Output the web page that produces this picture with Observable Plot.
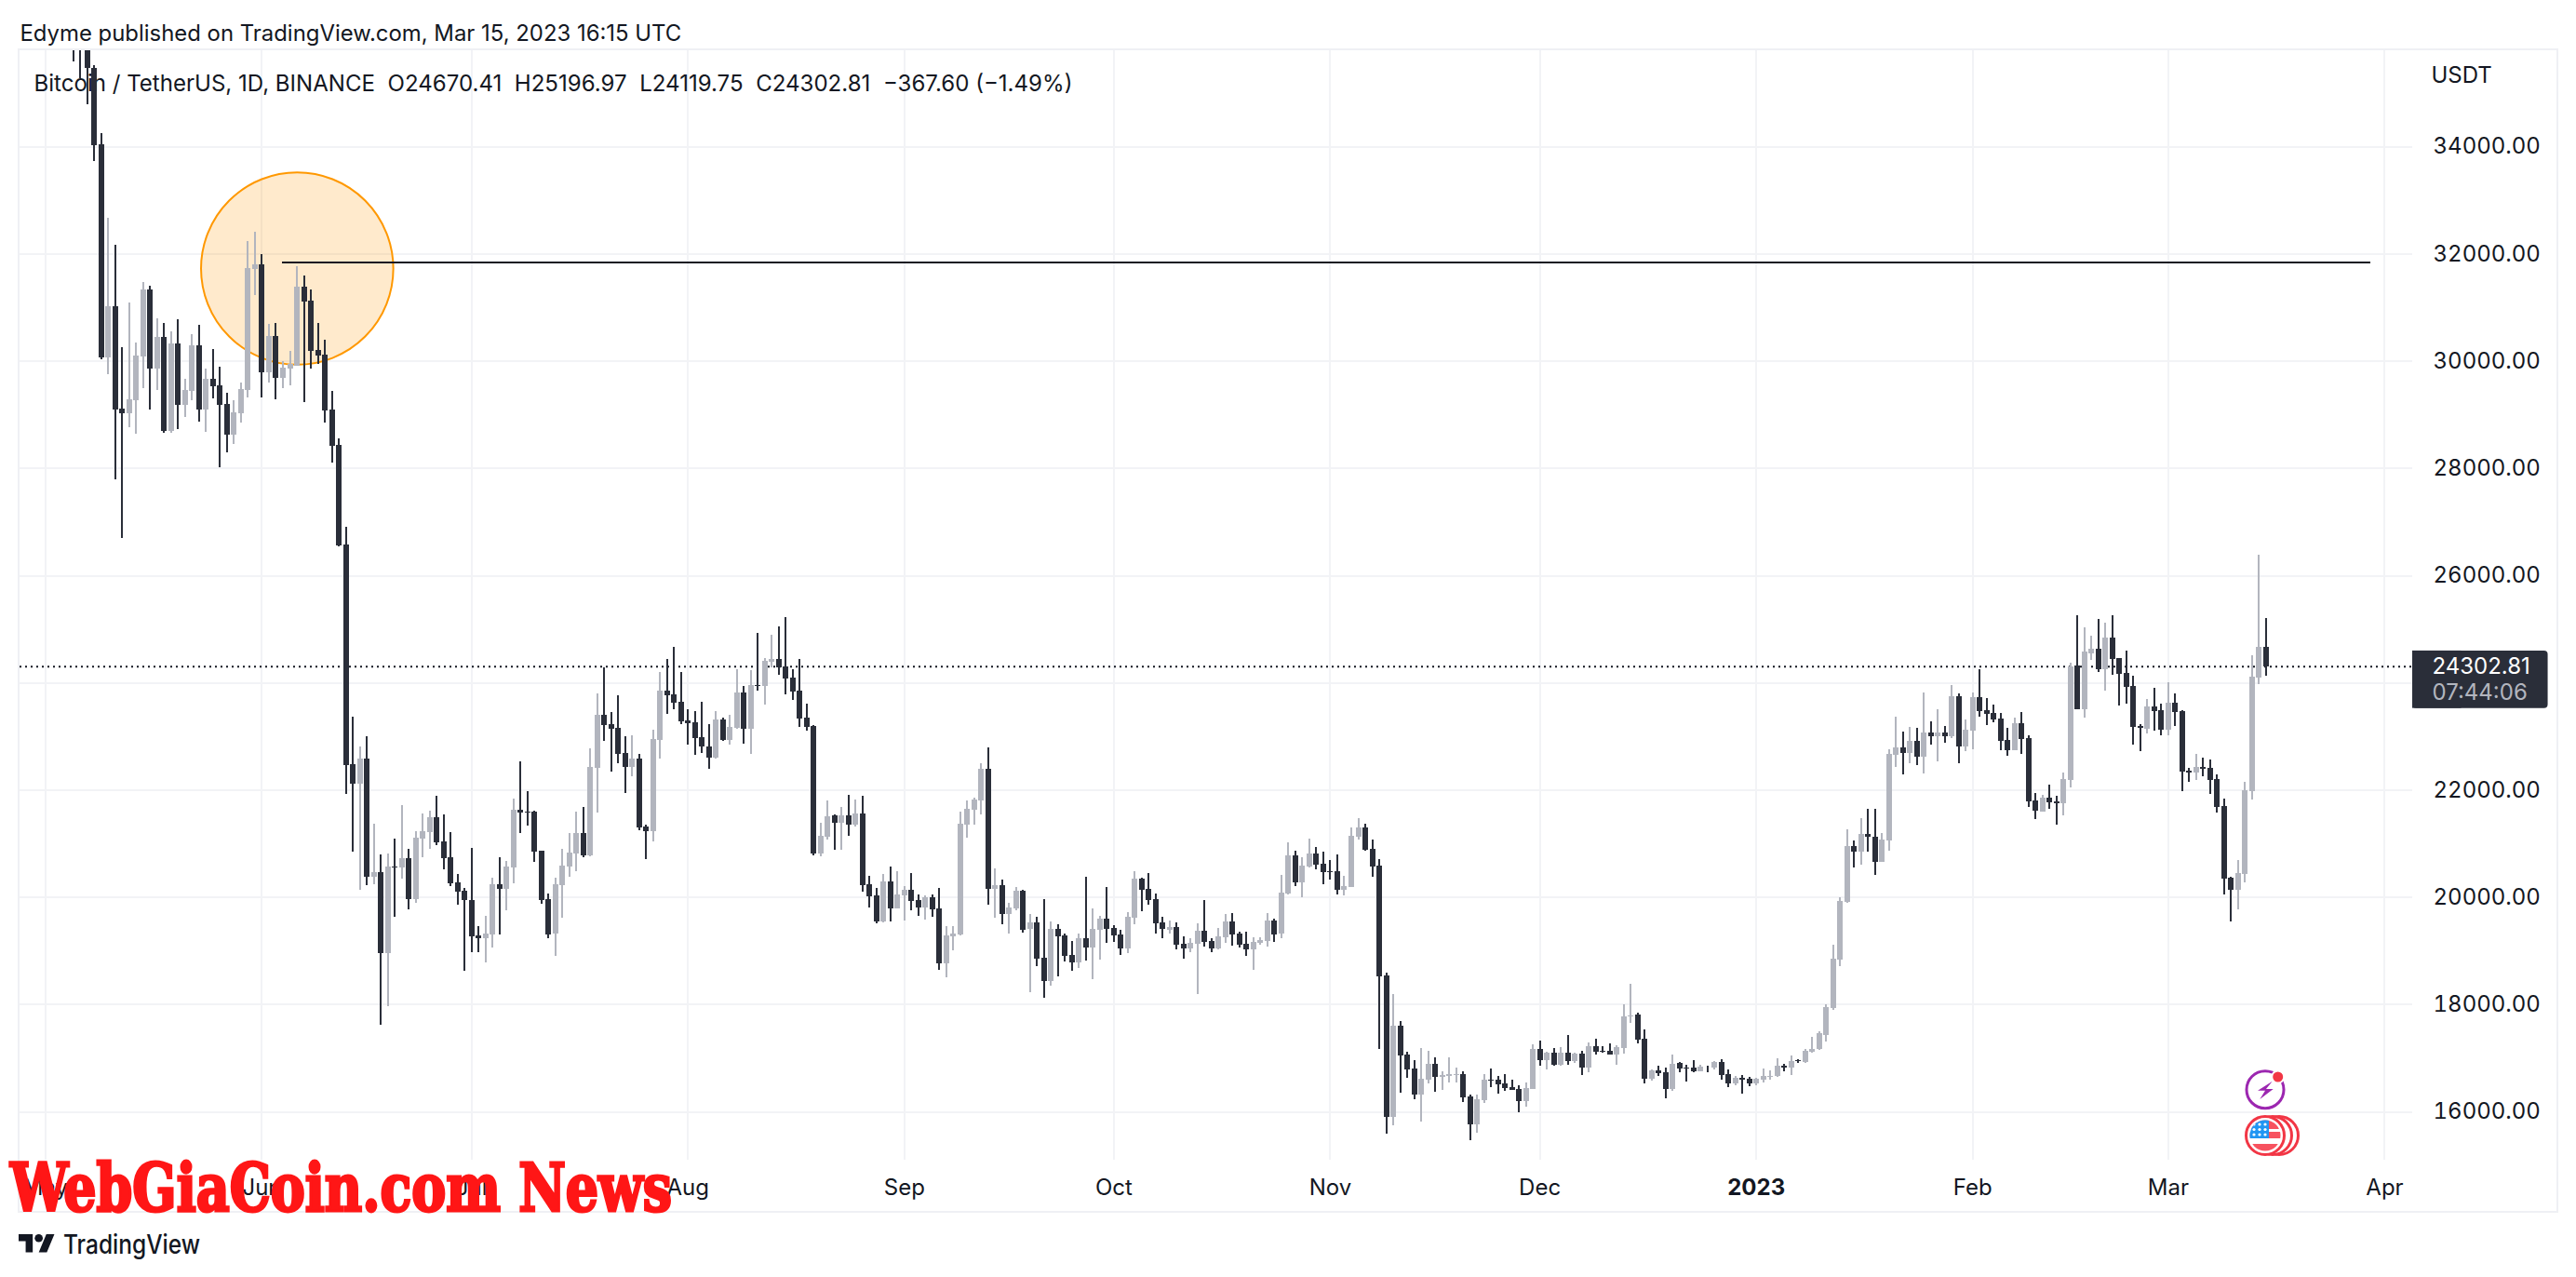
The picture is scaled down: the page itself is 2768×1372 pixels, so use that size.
<!DOCTYPE html>
<html><head><meta charset="utf-8">
<script src="https://cdn.jsdelivr.net/npm/d3@7"></script>
<script src="https://cdn.jsdelivr.net/npm/@observablehq/plot@0.6"></script>
<style>html,body{margin:0;padding:0;background:#fff}svg{display:block}</style>
</head><body><div id="chart"></div>
<script>
const firstDay = "2022-05-05";
const open = [
39678,36547,36014,35471,34033,30065,31014,29104,29023,29271,30084,31336,29860,30443,28695,30325,29178,29445,30288,29092,29662,29538,29197,28627,29023,29457,31720,
31801,29786,30468,29681,29860,29910,31386,31119,30208,30115,29092,28434,26574,22476,22110,22581,20374,20461,18960,20560,20548,20721,19959,21087,21211,21490,21037,20740,20275,20114,
19940,19283,19239,19301,20238,20157,20548,21626,21589,21589,20864,19959,19320,20219,20566,20808,21192,20777,22414,23400,23226,23152,22687,22426,22581,21316,21230,22935,23846,23778,23641,
23288,23257,22978,22804,22600,23313,22928,23152,23815,23139,23951,23927,24385,24441,24301,24086,23849,23346,23190,20817,21129,21523,21384,21523,21349,21558,20238,20030,19544,20290,19787,20030,20134,19943,19804,19995,
19787,18762,19266,19301,21349,21627,21801,22391,20151,20221,19683,19787,20117,19405,19526,18867,18433,19405,19283,18919,18780,19231,19057,19387,19596,
19422,19301,19040,19613,20342,20151,19960,19526,19387,19440,19127,19040,19127,19370,19179,19040,19249,19543,19317,19126,19022,19144,19178,19560,19317,20064,20776,20272,20567,20810,20619,
20475,20481,20133,20185,21123,21297,20897,20585,18536,15897,17599,17060,16800,16314,16592,16887,16644,16661,16679,16696,16279,15758,16210,16592,16592,16522,16453,16418,16192,
16418,17165,16956,17095,16869,17095,16939,17078,16817,17217,17130,17130,17060,17182,17772,17807,17356,16609,16765,16731,16418,16896,16819,16819,16747,16842,16819,16920,16699,16526,16621,16609,
16526,16592,16645,16663,16854,16819,16950,16914,17106,17159,17428,17930,18833,19909,20949,20848,21176,21123,20656,21057,22653,22791,22683,22910,22617,23066,23000,23066,22994,23747,22809,
23101,23735,23484,23430,23329,22928,22737,23239,22964,21800,21597,21852,21783,21754,22188,24317,23507,24543,24630,24248,24838,24456,24178,23935,23189,23137,23553,
23484,23119,23623,23467,22356,22321,22425,22408,22199,21696,20359,20133,20428,21974,24092,24670];
const high = [
39845,36665,36146,35509,34250,32669,32161,30251,31088,30344,31472,31400,30790,30704,30549,30778,29662,30499,30673,29848,30220,29891,29402,29259,29600,32235,32409,
31987,30685,30704,30003,30189,31764,31584,31336,30704,30394,29445,28546,26903,23362,22804,22990,21366,20796,20808,21087,21707,20889,21230,21552,21614,21887,21540,21211,20424,20163,
20913,19456,19649,20362,20740,20672,21837,22532,21974,21608,20870,20064,20362,20889,21192,21589,21676,22773,23796,24280,23449,23759,22997,23015,22668,21347,23121,24193,24441,24664,24193,
23499,23468,23635,23226,23468,23344,23400,24249,23933,24230,24919,24454,24888,25049,25215,24248,24434,23606,23201,21384,21801,21540,21679,21905,21818,21887,20394,20169,20429,20568,20481,20198,20446,20047,20030,20047,
20169,19457,19457,21592,21801,21853,22495,22790,20533,20325,19891,20186,20130,19683,19630,19960,19544,19492,19318,19179,19318,20377,19787,19648,20186,
19474,19387,19717,20481,20360,20446,20064,19630,19561,19526,19266,19231,19509,19943,19231,19422,19683,19699,19352,19352,19248,19248,19699,19595,20411,21019,20863,20741,21088,20932,20845,
20689,20793,20394,21297,21470,21366,21071,20706,18588,18189,17686,17113,16956,17182,17130,17008,16748,17008,16817,16748,16314,16314,16696,16800,16661,16696,16592,16488,16540,
17251,17321,17110,17182,17199,17425,17100,17130,17286,17356,17217,17269,17234,17998,18380,17842,17529,16783,16852,16817,17060,16920,16872,16956,16872,16854,16938,16974,16783,16663,16681,16639,
16627,16800,16765,16992,16884,17046,16980,17165,17392,17494,17996,19108,19987,21260,21057,21469,21643,21643,21194,22755,23364,23084,23173,23155,23813,23275,23502,23191,23950,23795,23311,
23813,24249,23711,23586,23430,23155,23347,23448,23012,21933,21898,22089,21881,22321,24375,25255,25029,24873,25185,25116,25255,24462,24595,24126,23224,23692,23901,
23605,24005,23797,23484,22408,22668,22599,22564,22286,21835,20370,20689,22147,24508,26383,25197];
const low = [
35583,35273,34790,33735,30034,29743,27790,26700,28763,28639,29488,29092,29464,28658,28650,28732,28961,29259,28868,28682,29302,28019,28298,28453,28856,29309,31224,
29309,29600,29290,29495,29550,29900,29228,29860,29941,28856,28100,26540,21924,20851,20126,20219,20238,17615,17968,19630,20343,19773,19897,20746,20901,20975,20517,20207,19859,18626,
18979,18979,18781,19060,19301,19754,20262,21192,21323,20653,19878,19239,18905,19618,20374,20486,20746,20765,21577,22916,22346,22501,21936,22253,21242,20709,21037,22581,23412,23499,23232,
22842,22649,22687,22389,22581,22916,22842,23140,22860,22668,23846,23586,24280,24144,23780,23676,23172,23103,20776,20759,21071,20886,20886,21141,21314,20105,19804,19509,19530,19544,19780,19561,19752,19648,19578,19630,
18641,18502,19005,19283,21106,21349,21540,19856,19613,19492,19318,19752,19335,18224,18710,18120,18346,18519,18797,18624,18676,18815,18467,18832,19144,
19162,18919,18953,19492,19735,19856,19318,19231,19318,19023,18849,18971,18190,19075,18971,19030,19144,19092,19057,18901,18640,19109,19074,19161,19231,20047,20203,19994,20550,20515,20238,
20324,20047,20029,20180,21071,20870,20376,17165,15585,15741,16349,16626,16227,15810,16522,16366,16401,16540,16540,16175,15463,15602,16158,16453,16331,16383,16395,15984,16088,
16410,16852,16783,16852,16860,16869,16904,16679,16731,17060,17095,17055,16869,17078,17651,17269,16522,16574,16661,16244,16383,16723,16555,16735,16740,16723,16783,16591,16454,16490,16334,16472,
16490,16544,16597,16645,16747,16681,16908,16908,17100,17147,17303,17900,18714,19897,20549,20603,20848,20411,20650,20866,22426,22288,22498,22462,22306,22844,22528,22874,22964,22498,22719,
22755,23364,23209,23257,22737,22635,22730,22671,21679,21459,21590,21638,21354,21528,22043,23500,23351,24421,24196,23849,24144,23577,23605,22842,22720,23050,23102,
23015,23015,23189,21974,22147,22182,22251,21922,21574,20046,19543,19769,20272,21817,23970,24120];
const close = [
36547,36014,35471,34021,30065,31014,29092,29023,29290,30096,31336,29860,30443,28689,30325,29178,29464,30294,29092,29662,29526,29178,28627,29042,29476,31733,31801,
29786,30468,29681,29879,29941,31386,31107,30189,30096,29073,28422,26562,22463,22110,22581,20374,20461,18960,20560,20548,20721,19959,21106,21230,21490,21025,20727,20262,20107,19934,
19270,19239,19320,20238,20157,20560,21626,21583,21577,20851,19940,19301,20238,20585,20827,21192,20777,22426,23400,23214,23145,22674,22426,22581,21304,21230,22947,23846,23765,23629,23276,
23245,22966,22804,22600,23313,22928,23170,23815,23139,23951,23927,24404,24441,24280,24075,23838,23328,23172,20817,21135,21500,21384,21523,21349,21558,20221,20018,19544,20290,19787,20047,20134,19926,19804,19995,19770,
18762,19283,19318,21366,21644,21818,22391,20151,20221,19683,19804,20117,19387,19526,18849,18433,19405,19266,18901,18780,19231,19057,19405,19596,19405,
19283,19040,19630,20342,20134,19943,19509,19405,19440,19110,19040,19144,19370,19162,19040,19266,19544,19300,19109,19022,19161,19196,19560,19300,20081,20776,20272,20585,20810,20602,20463,
20463,20133,20203,21140,21297,20880,20567,18519,15897,17599,17043,16783,16314,16609,16887,16644,16679,16696,16696,16262,15758,16227,16592,16574,16505,16435,16401,16192,16435,
17165,16956,17095,16869,17095,16939,17078,16817,17217,17113,17113,17060,17199,17772,17790,17338,16609,16765,16713,16418,16887,16801,16807,16747,16831,16831,16920,16681,16526,16627,16597,16526,
16609,16663,16663,16854,16825,16938,16932,17129,17159,17452,17948,18851,19927,20949,20848,21176,21123,20656,21069,22671,22791,22683,22910,22617,23066,23000,23066,23000,23747,22809,23119,
23735,23466,23412,23317,22910,22737,23245,22946,21786,21609,21852,21765,21754,22199,24306,23507,24578,24630,24248,24838,24439,24161,23924,23171,23148,23553,23467,
23119,23623,23449,22338,22321,22425,22396,22182,21678,20347,20133,20446,21991,24109,24664,24303];

const priceTicks = [16000,18000,20000,22000,24000,26000,28000,30000,32000,34000];
const priceLabels = priceTicks.filter(p => p !== 24000);
const monthStarts = ["2022-05-01","2022-06-01","2022-07-01","2022-08-01","2022-09-01","2022-10-01","2022-11-01","2022-12-01","2023-01-01","2023-02-01","2023-03-01","2023-04-01"];
const monthNames = ["May","Jun","Jul","Aug","Sep","Oct","Nov","Dec","2023","Feb","Mar","Apr"];
const lastPrice = 24302.81;
const resistance = 31843;
const circleDate = "2022-06-06T01:00:00Z", circlePrice = 31730;

const ms = 86400000, t0 = Date.UTC(2022,4,5), jun1 = Date.UTC(2022,5,1);
const dayAt = n => new Date(jun1 + n*ms);
const candles = open.map((o,i)=>({date:new Date(t0+i*ms),o,h:high[i],l:low[i],c:close[i]}));
const months = monthStarts.map((d,i)=>({date:new Date(d+"T00:00:00Z"),name:monthNames[i]}));
const ink = "#131722", up = "#b2b5be", down = "#2a2e39", gridC = "#f2f3f6";
const colour = d => d.c >= d.o ? up : down;

const plot = Plot.plot({
  width:2768, height:1372, marginTop:54, marginBottom:126, marginLeft:21, marginRight:176,
  style:{background:"#fff", fontFamily:"Inter, 'Noto Sans', sans-serif", color:ink},
  x:{type:"utc", domain:[dayAt(-34.65), dayAt(308)], axis:null},
  y:{domain:[15099,35793]},
  marks:[
    Plot.gridX(months.map(m=>m.date),{stroke:gridC, strokeOpacity:1, strokeWidth:2, shapeRendering:"crispEdges"}),
    Plot.gridY(priceTicks,{stroke:gridC, strokeOpacity:1, strokeWidth:2, shapeRendering:"crispEdges"}),
    Plot.axisY({anchor:"right", ticks:priceLabels, tickFormat:d=>d.toFixed(2), tickSize:0, tickPadding:22, fontSize:24, label:null, fill:ink}),
    Plot.text(months.filter(m=>m.name!=="2023"),{x:"date", text:"name", frameAnchor:"bottom", lineAnchor:"middle", dy:30, fontSize:24, fill:ink}),
    Plot.text(months.filter(m=>m.name==="2023"),{x:"date", text:"name", frameAnchor:"bottom", lineAnchor:"middle", dy:30, fontSize:24, fontWeight:700, fill:ink}),
    Plot.text(["Edyme published on TradingView.com, Mar 15, 2023 16:15 UTC"],{frameAnchor:"top-left", lineAnchor:"middle", dy:-18, fontSize:23.9, fill:ink}),
    Plot.text(["Bitcoin / TetherUS, 1D, BINANCE\u00A0\u00A0O24670.41\u00A0\u00A0H25196.97\u00A0\u00A0L24119.75\u00A0\u00A0C24302.81\u00A0\u00A0\u2212367.60 (\u22121.49%)"],{frameAnchor:"top-left", lineAnchor:"middle", dx:15, dy:36, fontSize:24.07, fill:ink}),
    Plot.text(["USDT"],{frameAnchor:"top-right", lineAnchor:"middle", dx:20, dy:27, textAnchor:"start", fontSize:24, fill:ink}),
    Plot.dot([{x:new Date(circleDate),y:circlePrice}],{x:"x", y:"y", r:103.3, fill:"#ff9800", fillOpacity:0.2, stroke:"#ff9800", strokeWidth:2}),
    Plot.ruleY([lastPrice],{stroke:ink, strokeWidth:2, strokeDasharray:"2,4", clip:true}),
    Plot.ruleX(candles,{x:"date", y1:"l", y2:"h", stroke:colour, strokeWidth:2, clip:true, shapeRendering:"crispEdges"}),
    Plot.ruleX(candles,{x:"date", y1:"o", y2:"c", stroke:colour, strokeWidth:6, clip:true, shapeRendering:"crispEdges"}),
    Plot.ruleY([resistance],{x1:()=>dayAt(2.9), x2:()=>dayAt(302), stroke:ink, strokeWidth:2, shapeRendering:"crispEdges"}),
    Plot.rect([{}],{x1:()=>dayAt(308), x2:()=>dayAt(327.4), y1:()=>24597, y2:()=>23525, fill:down, rx:4}),
    Plot.rect([{}],{x1:()=>dayAt(308), x2:()=>dayAt(315), y1:()=>24597, y2:()=>23525, fill:down}),
    Plot.text([lastPrice],{y:d=>d, text:d=>d.toFixed(2), frameAnchor:"right", dx:21, textAnchor:"start", fontSize:24, fill:"#fff"}),
    Plot.text([23819],{y:d=>d, text:()=>"07:44:06", frameAnchor:"right", dx:21, textAnchor:"start", fontSize:24, fill:up})
  ]
});
document.getElementById("chart").append(plot);

const s = d3.select(plot);
s.append("rect").attr("x",20).attr("y",53).attr("width",2728).attr("height",1249)
  .attr("fill","none").attr("stroke","#eff0f4").attr("stroke-width",2);

// news sticker icons
const ic = s.append("g");
ic.append("circle").attr("cx",2434).attr("cy",1170.7).attr("r",20).attr("fill","#fff").attr("stroke","#9c27b0").attr("stroke-width",3);
ic.append("circle").attr("cx",2447.7).attr("cy",1157).attr("r",6.5).attr("fill","#f23645").attr("stroke","#fff").attr("stroke-width",2);
ic.append("path").attr("d","M2441.7 1161.7L2426 1171.7L2434 1171.7L2428.3 1181L2442.7 1170L2435 1170Z").attr("fill","#9c27b0");
[2449,2442,2434].forEach(cx=>ic.append("circle").attr("cx",cx).attr("cy",1220).attr("r",20.5).attr("fill","#fff").attr("stroke","#f23645").attr("stroke-width",3));
const defs = s.append("defs");
defs.append("clipPath").attr("id","flagClip").append("circle").attr("cx",2434).attr("cy",1220).attr("r",16.5);
const fl = ic.append("g").attr("clip-path","url(#flagClip)");
[[1203,10],[1216,7],[1229,9]].forEach(([y,h])=>fl.append("rect").attr("x",2417).attr("y",y).attr("width",34).attr("height",h).attr("fill","#f7525f"));
fl.append("rect").attr("x",2417).attr("y",1203).attr("width",21).attr("height",20).attr("fill","#2196f3");
for (let a=0;a<3;a++) for (let b=0;b<3;b++) fl.append("circle").attr("cx",2422+b*6).attr("cy",1208+a*5.5).attr("r",1.6).attr("fill","#fff");

// TradingView logo
const lg = s.append("g").attr("transform","translate(20,1321.6) scale(1.083)").attr("fill",ink);
lg.append("path").attr("d","M14 22H7V11H0V4h14v18zM28 22h-8l7.5-18h8L28 22z");
lg.append("circle").attr("cx",20).attr("cy",8).attr("r",4);
s.append("text").attr("x",68).attr("y",1347).attr("text-anchor","start").attr("font-family","Inter, sans-serif").attr("font-size",28).attr("font-weight",500)
  .attr("fill",ink).attr("textLength",147).attr("lengthAdjust","spacingAndGlyphs").text("TradingView");

// Watermark
s.append("text").attr("x",11).attr("y",1301).attr("text-anchor","start").attr("font-family","'DejaVu Serif Condensed','DejaVu Serif',serif")
  .attr("font-weight",700).attr("font-size",71).attr("fill","#ff1616").attr("stroke","#ff1616").attr("stroke-width",3)
  .attr("textLength",711).attr("lengthAdjust","spacingAndGlyphs").text("WebGiaCoin.com News");
</script></body></html>
